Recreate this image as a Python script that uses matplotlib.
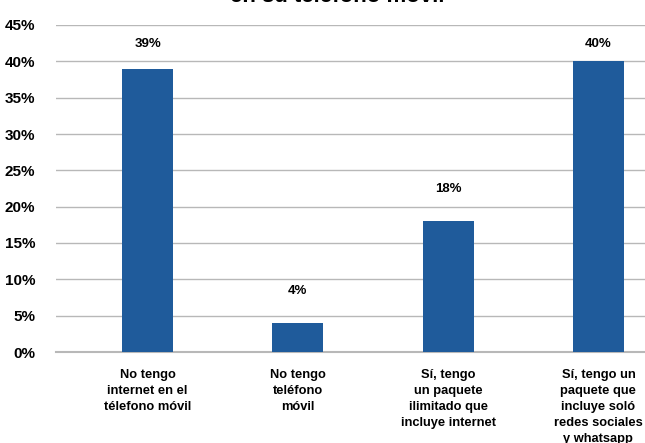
import numpy as np
import matplotlib
matplotlib.use("Agg")
import matplotlib.pyplot as plt
from matplotlib.ticker import FuncFormatter, MultipleLocator

# data
categories = [
    "No tengo\ninternet en el\ntélefono móvil",
    "No tengo\nteléfono\nmóvil",
    "Sí, tengo\nun paquete\nilimitado que\nincluye internet",
    "Sí, tengo un\npaquete que\nincluye soló\nredes sociales\ny whatsapp",
]
values = [39, 4, 18, 40]
title = "en su teléfono móvil"

bar_color = "#1f5b9b"
plt.rcParams["font.family"] = ["Liberation Sans", "DejaVu Sans"]

fig = plt.figure(figsize=(6.45, 4.43), dpi=100)
ax = fig.add_axes([56 / 645, (443 - 352) / 443, 1 - 56 / 645, 327 / 443])

x = np.arange(len(values))
ax.bar(x, values, width=0.34, color=bar_color, zorder=3)

for xi, v in zip(x, values):
    ax.text(xi, min(v + 4.4, 42.4), f"{v}%", ha="center", va="center",
            fontsize=9.5, fontweight="bold")

ax.set_ylim(0, 45)
ax.set_xlim(-0.61, 3.31)
ax.yaxis.set_major_locator(MultipleLocator(5))
ax.yaxis.set_major_formatter(FuncFormatter(lambda v, p: f"{v:.0f}%"))
ax.grid(axis="y", color="#b8b8b8", linewidth=1, zorder=0)
for s in ["top", "right", "left"]:
    ax.spines[s].set_visible(False)
ax.spines["bottom"].set_color("#b8b8b8")
ax.spines["bottom"].set_linewidth(1.5)
ax.tick_params(axis="both", length=0)
ax.tick_params(axis="y", pad=15, labelsize=11)
for t in ax.get_yticklabels():
    t.set_fontweight("bold")
ax.set_xticks(x)
ax.set_xticklabels(categories, fontsize=9.3, fontweight="bold", linespacing=1.45)
ax.tick_params(axis="x", pad=12)

fig.text(337 / 645, 1 - 2.5 / 443, title, ha="center", va="baseline",
         fontsize=16, fontweight="bold")

fig.savefig("out.png", dpi=100)
